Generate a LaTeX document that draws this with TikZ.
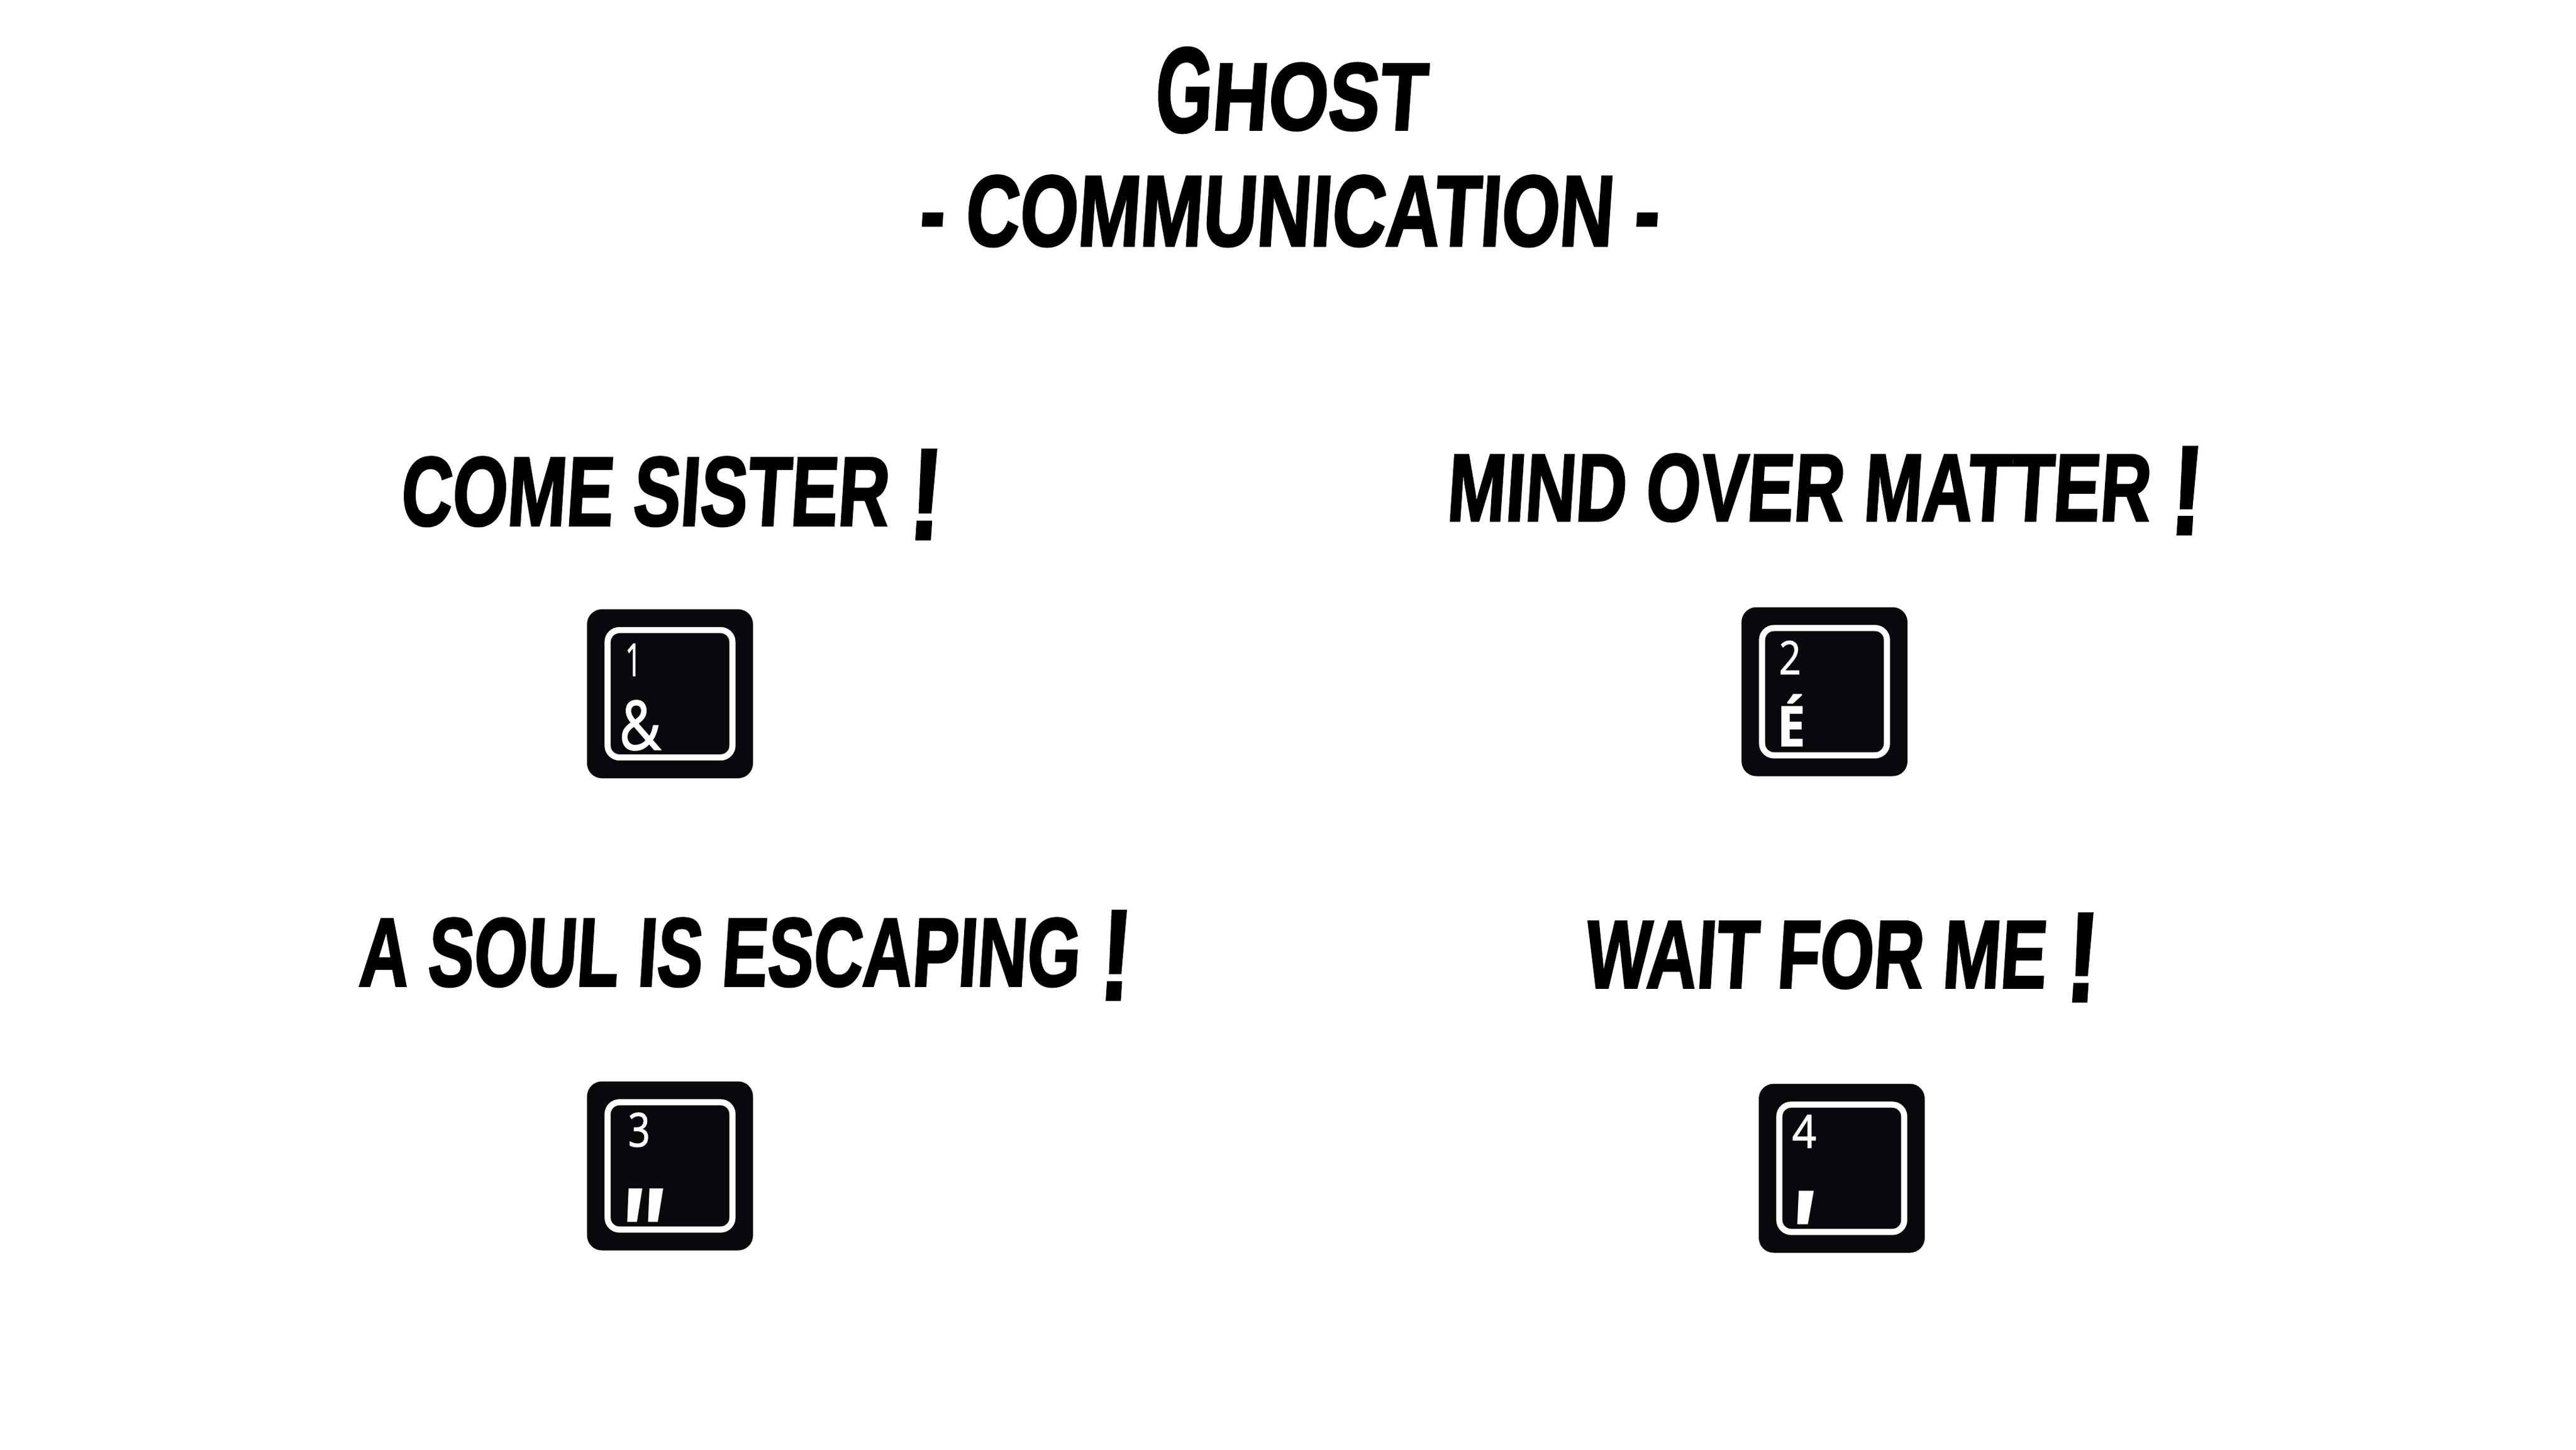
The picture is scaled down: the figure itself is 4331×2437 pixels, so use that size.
\documentclass[tikz,border=0pt]{standalone}
\usepackage{fontspec}
\usepackage{graphicx}
\newfontfamily\ghostfont[BoldFont={Liberation Sans Bold},BoldFeatures={FakeSlant=0.09,FakeBold=2.2}]{Liberation Sans}
\newfontfamily\keyfont[BoldFont={Open Sans Bold},FakeBold=1.5]{Open Sans}
\newfontfamily\quotefont[FakeSlant=0.13]{Open Sans Bold}
\newdimen\pxu \pxu=0.01cm
\newcommand{\fitpx}[3]{\resizebox{#1\pxu}{#2\pxu}{#3}}
\newcommand{\ghostbang}{\smash{\raisebox{-0.14em}{\scalebox{1.35}[1.32]{!}}}}
\definecolor{keyblack}{HTML}{07090C}
\tikzset{
  headline/.style={anchor=base west,inner sep=0pt,outer sep=0pt,text=black,font=\ghostfont\bfseries},
  keycap/.style={draw=none,fill=keyblack,rounded corners=25\pxu,minimum width=279\pxu,minimum height=284\pxu,inner sep=0pt},
  keyring/.style={draw=white,line width=10.3\pxu,fill=none,rounded corners=20\pxu,minimum width=210\pxu,minimum height=214\pxu,inner sep=0pt},
  keyglyph/.style={anchor=base west,inner sep=0pt,outer sep=0pt,text=white,font=\keyfont},
}
\begin{document}
\begin{tikzpicture}[x=0.01cm,y=-0.01cm]
\useasboundingbox (0,0) rectangle (4331,2437);
\fill[white] (0,0) rectangle (4331,2437);
% titles
\node[headline] (title1) at (1940,218) {\fitpx{456}{112}{\smash{\raisebox{-0.02em}{\scalebox{0.95}[1.26]{G}}}HOST}};
\node[headline] (title2) at (1544,413) {\fitpx{1243}{118}{- COMMUNICATION -}};
% headings
\node[headline] (h1) at (672,883) {\fitpx{907}{115}{COME SISTER \ghostbang}};
\node[headline] (h2) at (2431,875) {\fitpx{1268}{112}{MIND OVER MATTER \ghostbang}};
\node[headline] (h3) at (602,1657) {\fitpx{1296}{114}{A SOUL IS ESCAPING \ghostbang}};
\node[headline] (h4) at (2663,1660) {\fitpx{860}{113}{WAIT FOR ME \ghostbang}};
% key 1
\node[keycap] (k1) at (1126.5,1166) {};
\node[keyring] (r1) at (k1.center) {};
\node[keyglyph] (d1) at (1051,1136) {\fitpx{28}{54}{1}};
\node[keyglyph] (s1) at (1041,1260) {\fitpx{70}{83}{\&}};
% key 2
\node[keycap] (k2) at (3067.5,1162.5) {};
\node[keyring] (r2) at (k2.center) {};
\node[keyglyph] (d2) at (2991,1133) {\fitpx{37}{56}{2}};
\node[keyglyph] (s2) at (2988,1254) {\fitpx{47}{87}{\bfseries É}};
% key 3
\node[keycap] (k3) at (1126.5,1959.5) {};
\node[keyring] (r3) at (k3.center) {};
\node[keyglyph] (d3) at (1056,1927) {\fitpx{37}{57}{3}};
\node[keyglyph] (s3) at (1030,2153) {\scalebox{0.78}[1]{\fontsize{62}{62}\quotefont "}};
% key 4
\node[keycap] (k4) at (3096.5,1963.5) {};
\node[keyring] (r4) at (k4.center) {};
\node[keyglyph] (d4) at (3013,1929) {\fitpx{41}{55}{4}};
\node[keyglyph] (s4) at (2995,2157) {\scalebox{0.85}[1]{\fontsize{62}{62}\quotefont '}};
\end{tikzpicture}
\end{document}
